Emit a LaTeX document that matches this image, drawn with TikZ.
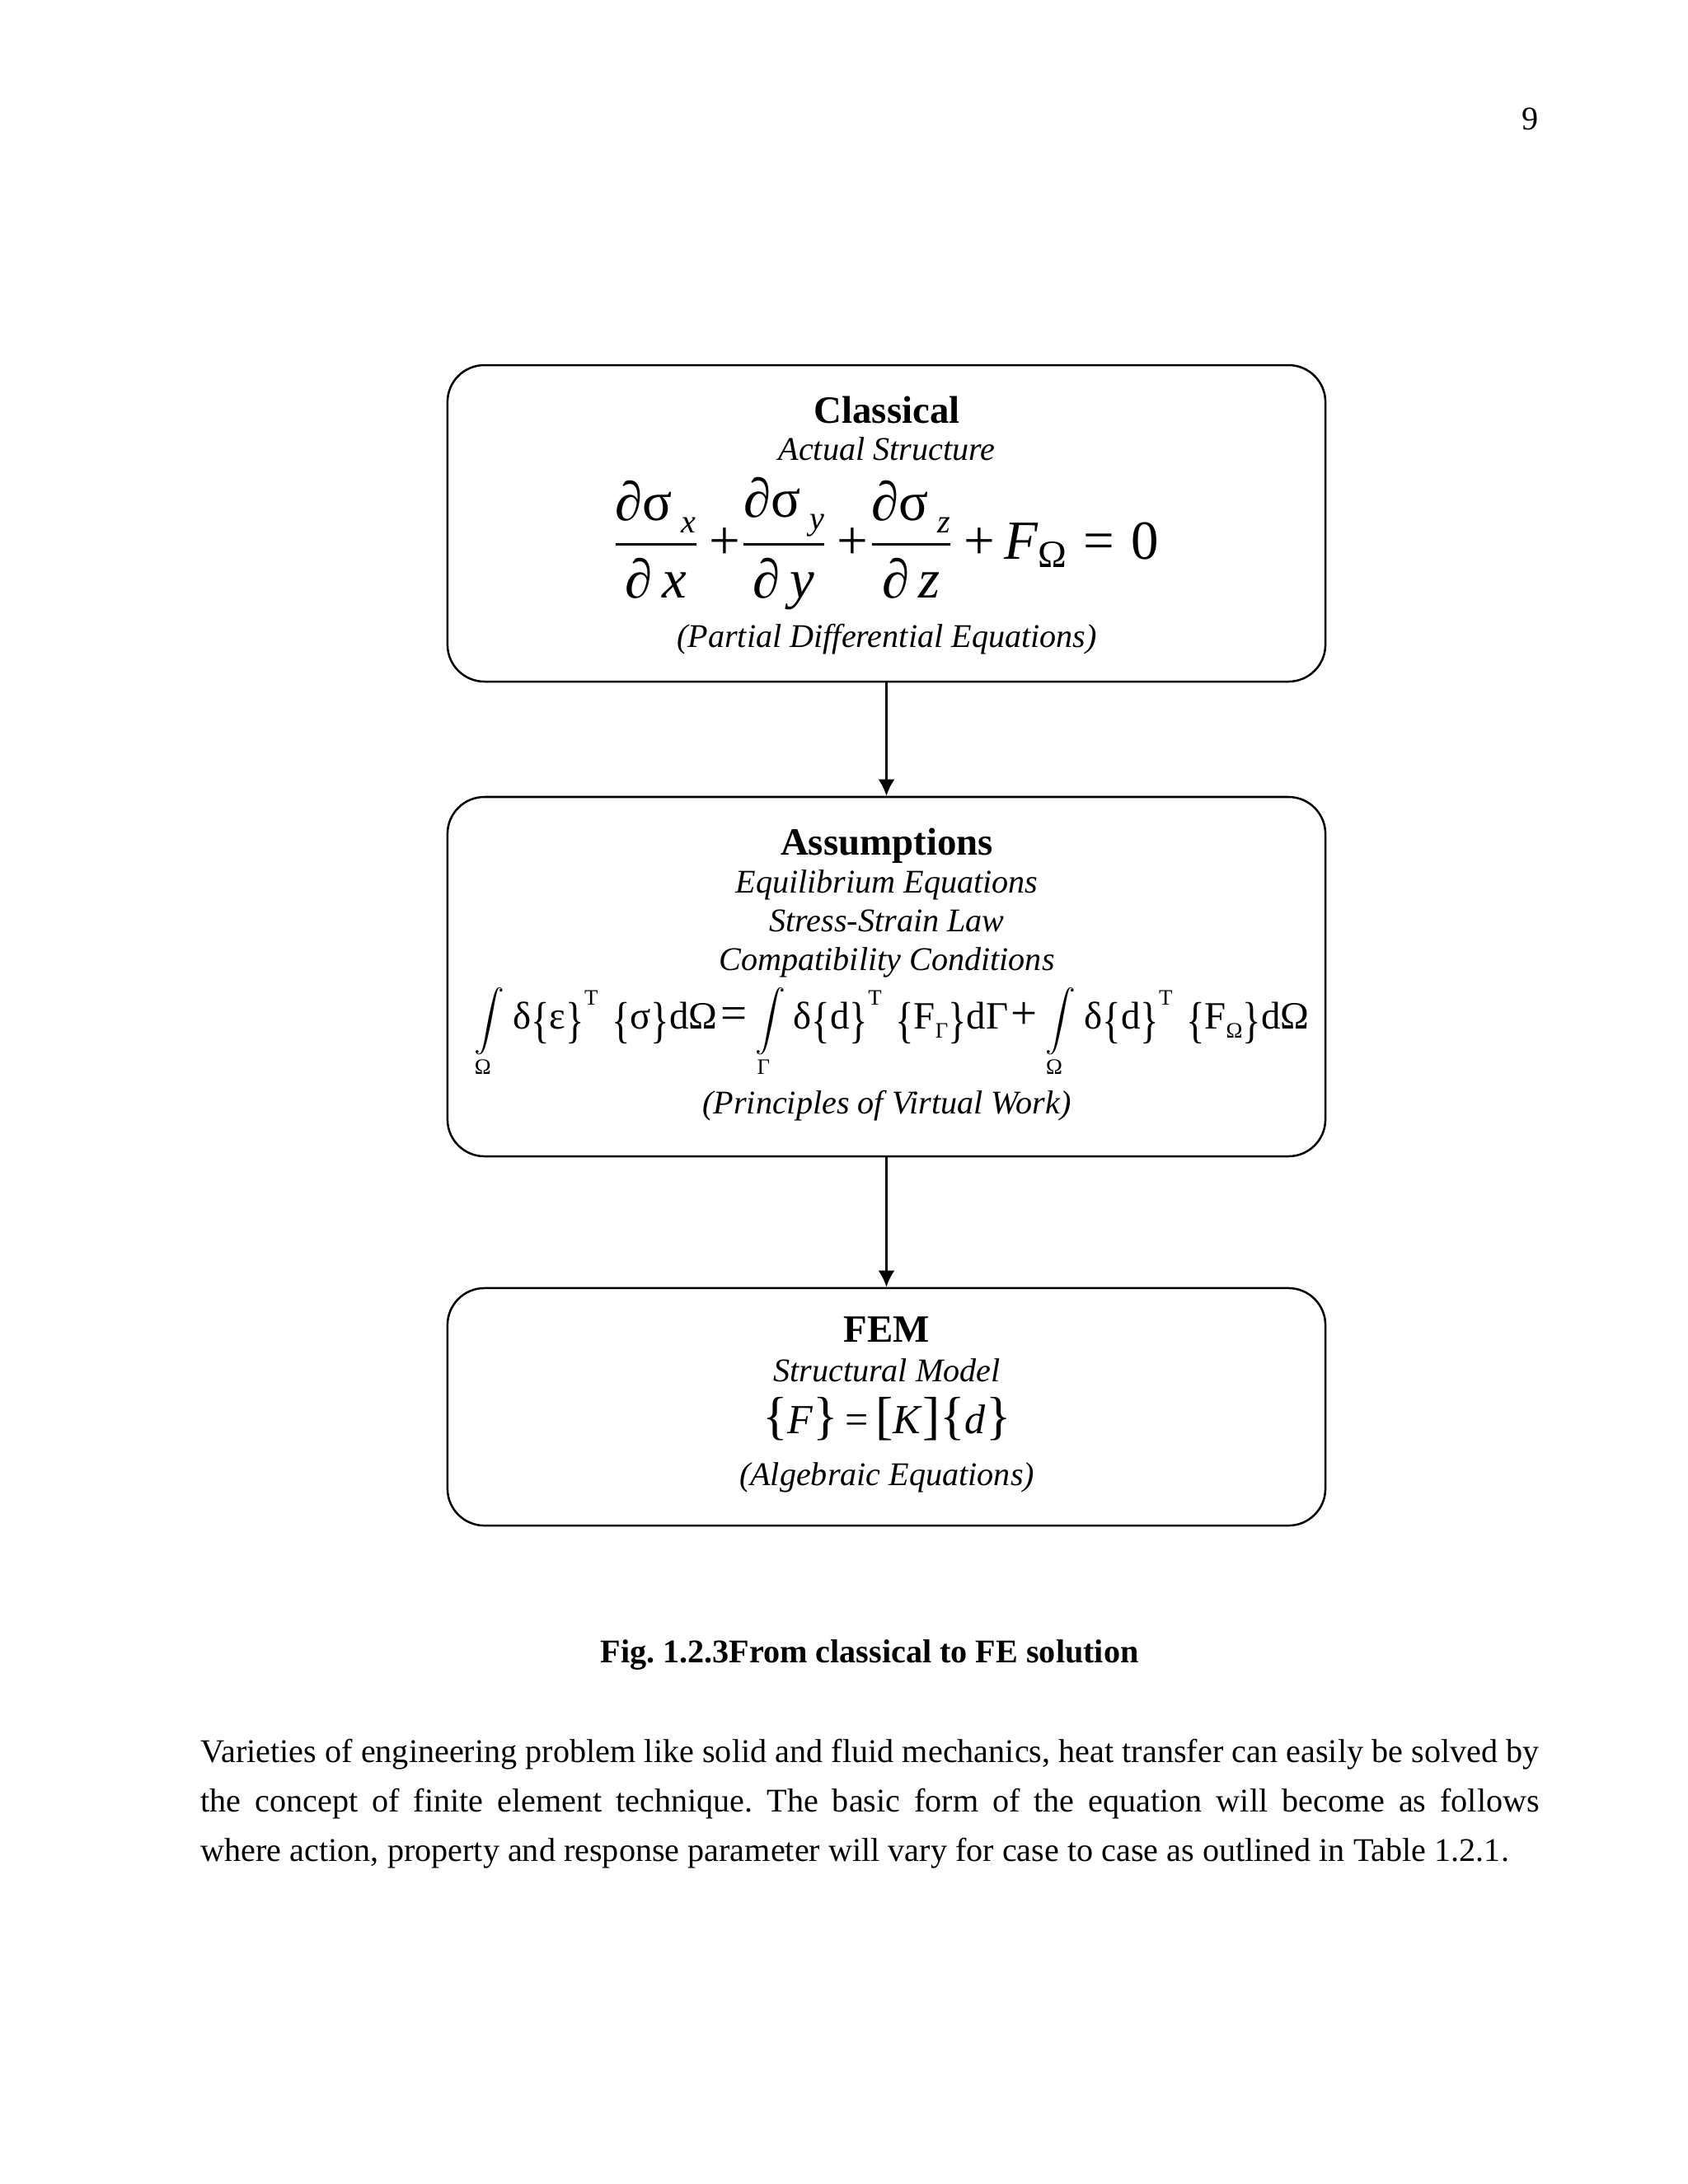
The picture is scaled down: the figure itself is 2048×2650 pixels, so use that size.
\documentclass[tikz,border=0pt]{standalone}
\usepackage{amsmath,graphicx}
\usepackage{fontspec}
\setmainfont{Liberation Serif}
\usetikzlibrary{%
  arrows.meta,%
  positioning%
}
\frenchspacing
\tikzset{>={Latex[length=6pt,width=6pt]}}
\tikzset{block/.style = {draw, line width=0.75pt, rounded corners=13.4pt,
        minimum width=318.3pt, inner sep=0pt},%
    heading/.style = {anchor=base, inner sep=0pt, font=\fontsize{14}{16}\selectfont\bfseries},%
    note/.style = {anchor=base, inner sep=0pt, font=\fontsize{12}{14}\selectfont\itshape},%
    formula/.style = {anchor=base, inner sep=0pt},%
    textline/.style = {anchor=base west, inner sep=0pt, font=\fontsize{12}{18}\selectfont}}

\newcommand{\intover}[1]{\mbox{\fontsize{11}{13}\selectfont$\displaystyle\int\limits_{\text{\fontsize{8}{8}\selectfont #1}}$}\hspace{3pt}}
\newcommand{\lbr}{\raisebox{-3pt}{\scalebox{1}[1.3]{\{}}}
\newcommand{\rbr}{\raisebox{-3pt}{\scalebox{1}[1.3]{\}}}}
\newcommand{\supT}{\raisebox{8.5pt}{\fontsize{8}{8}\selectfont T}}
\newcommand{\subsc}[1]{\raisebox{-3.5pt}{\fontsize{8}{8}\selectfont #1}}
\newcommand{\pdsub}[1]{\raisebox{-4.5pt}{\fontsize{12}{12}\selectfont\itshape #1}}
\newcommand{\bigsym}[1]{{\fontsize{17}{17}\selectfont #1}}
\newcommand{\dlim}[1]{{\fontsize{19}{19}\selectfont #1}}

\begin{document}
\begin{tikzpicture}[x=0.29883pt, y=-0.29883pt]
    \useasboundingbox (0,0) rectangle (2048,2650);
    \node[textline, anchor=base east] (pagenum) at (1867,157) {9};

    \node[block, minimum height=114.75pt] (classical) at (1075.5,635) {};
    \node[block, minimum height=130.3pt] (assump) at (1075.5,1185) {};
    \node[block, minimum height=86.1pt] (fem) at (1075.5,1707) {};
    \draw[->, line width=0.9pt] (classical) -- (assump);
    \draw[->, line width=0.9pt] (assump) -- (fem);

    \node[heading] (clhead) at (1076,513) {Classical};
    \node[note] (clsub) at (1076,558) {Actual Structure};
    \node[formula, font=\fontsize{20}{24}\selectfont] (pde) at (1074,678)
        {$\displaystyle\frac{\text{∂σ\,\pdsub{x}}}{\text{∂}\,\textit{x}}\,\text{+}
        \frac{\text{∂σ\,\pdsub{y}}}{\text{∂}\,\textit{y}}\,\text{+}
        \frac{\text{∂σ\,\pdsub{z}}}{\text{∂}\,\textit{z}}\,\text{+}\,
        \textit{F}_{\text{Ω}}\;\text{=}\;\text{0}$};
    \node[note] (clnote) at (1076,785) {(Partial Differential Equations)};

    \node[heading] (ashead) at (1076,1037) {Assumptions};
    \node[note] (as1) at (1076,1083) {Equilibrium Equations};
    \node[note] (as2) at (1076,1130) {Stress-Strain Law};
    \node[note] (as3) at (1076,1177) {Compatibility Conditions};
    \node[formula, font=\fontsize{14}{16}\selectfont] (pvw) at (1082,1248)
        {\intover{Ω}δ\lbr ε\rbr\supT\hspace{5pt}\lbr σ\rbr dΩ\hspace{1pt}\bigsym{=}\hspace{3pt}%
        \intover{Γ}δ\lbr d\rbr\supT\hspace{5pt}\lbr F\subsc{Γ}\rbr dΓ\hspace{1pt}\bigsym{+}\hspace{3pt}%
        \intover{Ω}δ\lbr d\rbr\supT\hspace{5pt}\lbr F\subsc{Ω}\rbr dΩ};
    \node[note] (asnote) at (1076,1351) {(Principles of Virtual Work)};

    \node[heading] (fehead) at (1076,1628) {FEM};
    \node[note] (fesub) at (1076,1676) {Structural Model};
    \node[formula, font=\fontsize{15}{17}\selectfont] (alg) at (1076,1739)
        {\dlim{\{}\textit{F}\dlim{\}}\,=\,\dlim{[}\textit{K}\dlim{]}\dlim{\{}\textit{d}\dlim{\}}};
    \node[note] (fenote) at (1076,1802) {(Algebraic Equations)};

    \node[textline, anchor=base, font=\fontsize{12}{18}\selectfont\bfseries] (figcap) at (1055,2017)
        {Fig. 1.2.3From classical to FE solution};

    \node[textline] (line1) at (243,2138) {\makebox[485.3pt][s]{Varieties of engineering problem like solid and fluid mechanics, heat transfer can easily be solved by}};
    \node[textline] (line2) at (243,2198) {\makebox[485.3pt][s]{the concept of finite element technique. The basic form of the equation will become as follows}};
    \node[textline] (line3) at (243,2258) {where action, property and response parameter will vary for case to case as outlined in Table 1.2.1.};
\end{tikzpicture}
\end{document}
